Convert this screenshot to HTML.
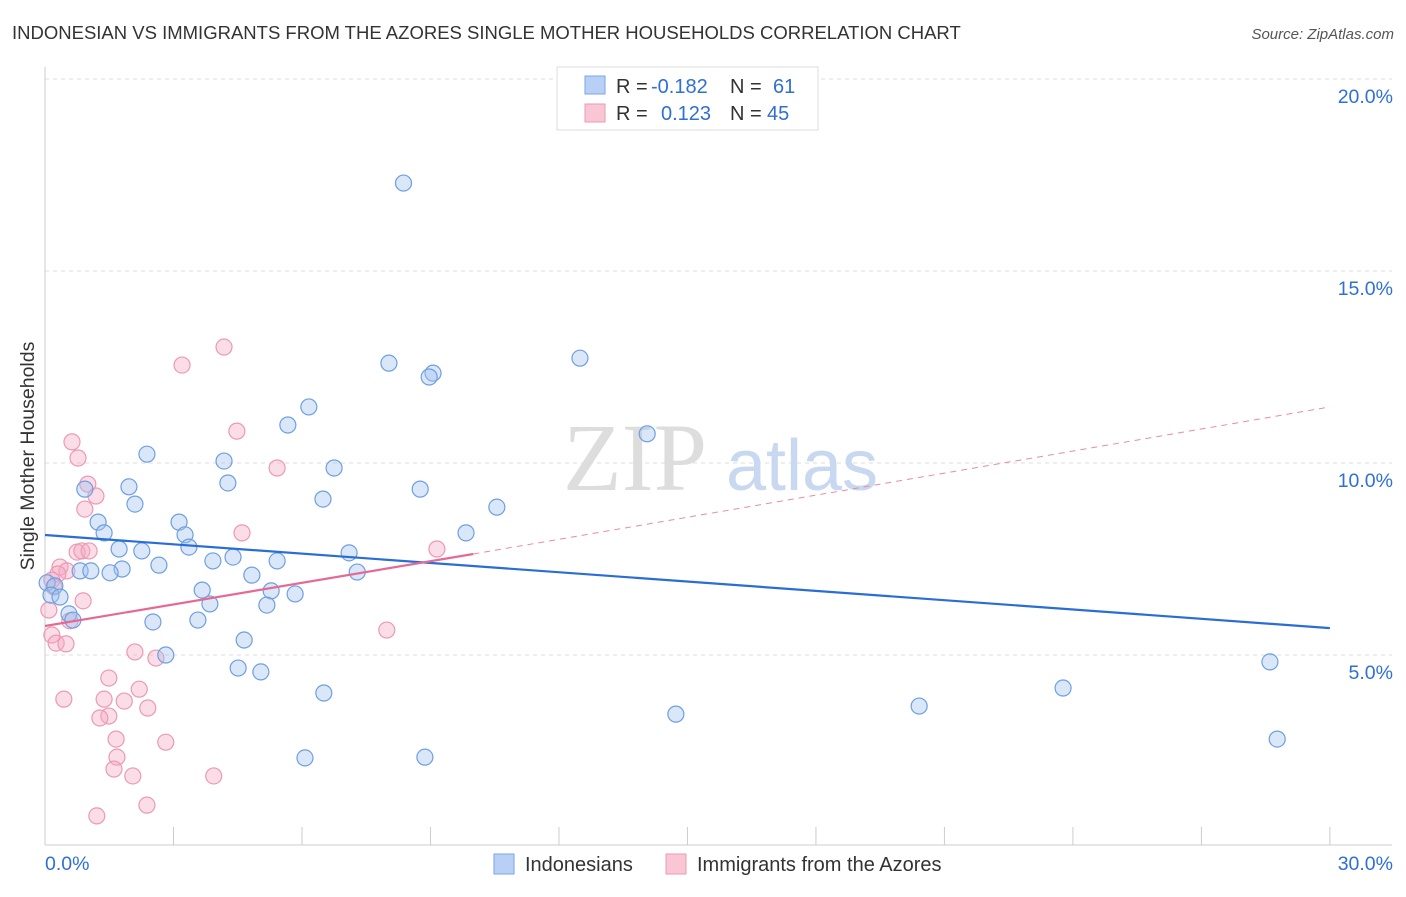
<!DOCTYPE html>
<html><head><meta charset="utf-8"><style>
body{margin:0;background:#fff;font-family:"Liberation Sans",sans-serif;}
</style></head><body>
<svg width="1406" height="892" xmlns="http://www.w3.org/2000/svg" font-family="Liberation Sans, sans-serif">
<text x="12" y="39" font-size="18.5" fill="#333">INDONESIAN VS IMMIGRANTS FROM THE AZORES SINGLE MOTHER HOUSEHOLDS CORRELATION CHART</text>
<text x="1394" y="39" font-size="15" fill="#555" text-anchor="end" font-style="italic">Source: ZipAtlas.com</text>
<g id="grid"></g>
<g><text x="635" y="490" font-size="96" fill="#ddd" font-family="Liberation Serif, serif" text-anchor="middle">ZIP</text><text x="802" y="490" font-size="72" fill="#c8d8f0" text-anchor="middle">atlas</text></g>
<g id="axes"></g>
<g id="pts"></g>
<g id="lines"></g>
<text x="34" y="456" font-size="19.5" fill="#333" text-anchor="middle" transform="rotate(-90 34 456)">Single Mother Households</text>
<g>
<rect x="557" y="67" width="261" height="63" fill="#fff" stroke="#ddd"/>
<rect x="585" y="76" width="20" height="18" fill="#b8d0f5" stroke="#7aa6e6"/>
<rect x="585" y="104" width="20" height="18" fill="#f9c6d6" stroke="#ec99b4"/>
<text x="616" y="93" font-size="20" fill="#333">R = <tspan x="651" fill="#2f6fd6">-0.182</tspan><tspan x="730">N = </tspan><tspan x="773" fill="#2f6fd6">61</tspan></text>
<text x="616" y="120" font-size="20" fill="#333">R = <tspan x="661" fill="#2f6fd6">0.123</tspan><tspan x="730">N = </tspan><tspan x="767" fill="#2f6fd6">45</tspan></text>
</g>
<g>
<rect x="494" y="854" width="20" height="20" fill="#b8d0f5" stroke="#7aa6e6"/>
<text x="525" y="871" font-size="20" fill="#333">Indonesians</text>
<rect x="666" y="854" width="20" height="20" fill="#f9c6d6" stroke="#ec99b4"/>
<text x="697" y="871" font-size="20" fill="#333">Immigrants from the Azores</text>
</g>
</svg>
<script>
const yTicks=[5,10,15,20];
const yTickLabels=["5.0%","10.0%","15.0%","20.0%"];
const xTickLabels=["0.0%","30.0%"];
const blueX=[8.37,12.49,8.03,9.06,8.97,6.16,5.67,14.06,2.38,4.18,6.75,4.27,1.96,0.93,8.76,6.49,2.1,10.55,1.24,3.13,9.83,1.38,3.27,3.36,1.73,2.26,7.1,4.39,3.92,5.42,2.66,1.8,0.82,1.07,1.52,7.29,4.83,3.67,5.28,5.84,0.05,0.23,0.14,0.35,3.85,5.18,0.56,0.65,3.57,2.52,2.82,4.65,28.6,4.51,5.04,23.77,6.51,20.41,14.73,28.77,6.07,8.87];
const blueY=[17.29,12.73,12.6,12.34,12.24,11.46,10.99,10.76,10.23,10.05,9.87,9.48,9.38,9.32,9.32,9.06,8.93,8.85,8.46,8.46,8.18,8.18,8.13,7.81,7.76,7.71,7.66,7.55,7.45,7.45,7.34,7.24,7.19,7.19,7.14,7.16,7.08,6.69,6.67,6.59,6.88,6.8,6.56,6.51,6.33,6.3,6.07,5.91,5.91,5.86,5.0,5.39,4.82,4.66,4.56,4.14,4.01,3.67,3.46,2.81,2.32,2.34];
const pinkX=[4.18,3.2,4.48,0.63,0.77,5.42,1.0,1.19,0.93,4.6,9.15,0.75,0.86,1.03,0.35,0.51,0.3,0.16,0.21,0.89,0.09,0.58,7.98,0.16,0.26,0.49,2.1,2.59,1.49,2.2,0.44,1.38,1.85,2.4,1.49,1.28,2.82,1.66,1.68,1.61,2.05,3.94,2.38,1.21];
const pinkY=[13.02,12.55,10.83,10.55,10.13,9.87,9.45,9.14,8.8,8.18,7.76,7.68,7.71,7.71,7.29,7.19,7.11,6.95,6.77,6.41,6.17,5.89,5.65,5.52,5.31,5.29,5.08,4.92,4.4,4.11,3.85,3.85,3.8,3.62,3.41,3.36,2.73,2.81,2.34,2.03,1.85,1.85,1.09,0.81];
const blueTrend=[[0,8.125],[30,5.7]];
const pinkTrend=[[0,5.755],[10,7.63]];
const pinkDash=[[10,7.63],[30,11.46]];
const NS="http://www.w3.org/2000/svg";
const X=v=>45+v*42.83, Y=v=>847-v*38.4;
function mk(t,a,p){const e=document.createElementNS(NS,t);for(const k in a)e.setAttribute(k,a[k]);p.appendChild(e);return e;}
const grid=document.getElementById('grid'),axes=document.getElementById('axes');
yTicks.forEach((t,i)=>{
 const l=mk('line',{x1:45,x2:1392,y1:Y(t),y2:Y(t),stroke:'#ddd','stroke-dasharray':'4,4'},grid);
 
 
 const tx=mk('text',{x:1393,y:Y(t)+24,'font-size':19.5,fill:'#2f6fd6','text-anchor':'end'},axes);
 tx.textContent=yTickLabels[i];
 
 
});
let l0=mk('line',{x1:45,x2:45,y1:67,y2:845,stroke:'#ccc'},axes);


let l1=mk('line',{x1:45,x2:1392,y1:845,y2:845,stroke:'#ccc'},axes);


for(let v=3;v<=30;v+=3){const t=mk('line',{x1:X(v),x2:X(v),y1:827,y2:845,stroke:'#ccc'},axes);
 
 }
[[0,'start',45],[30,'end',1393]].forEach((d,i)=>{const t=mk('text',{x:d[2],y:870,'font-size':19.5,fill:'#2f6fd6','text-anchor':d[1]},axes);t.textContent=xTickLabels[i];
 
 });
const pts=document.getElementById('pts');
pinkX.forEach((x,i)=>{const c=mk('circle',{cx:X(x),cy:Y(pinkY[i]),r:8,fill:'rgba(245,170,195,0.4)',stroke:'#ec99b4','stroke-width':1.2},pts);
 
 });
blueX.forEach((x,i)=>{const c=mk('circle',{cx:X(x),cy:Y(blueY[i]),r:8,fill:'rgba(160,195,240,0.4)',stroke:'#6f9fe0','stroke-width':1.2},pts);
 
 });
const lines=document.getElementById('lines');
function ln(d,a,name){const e=mk('line',Object.assign({x1:X(d[0][0]),y1:Y(d[0][1]),x2:X(d[1][0]),y2:Y(d[1][1])},a),lines);
 
 }
ln(blueTrend,{stroke:'#2a6dd6','stroke-width':2.2},'trend-indonesians');
ln(pinkTrend,{stroke:'#e46a94','stroke-width':2.2},'trend-azores');
ln(pinkDash,{stroke:'#e88aaa','stroke-width':1,'stroke-dasharray':'6,5'},'trend-azores-extension');
</script>
</body></html>
